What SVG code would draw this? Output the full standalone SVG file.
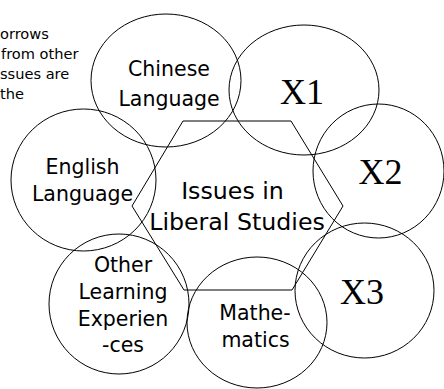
<svg xmlns="http://www.w3.org/2000/svg" width="444" height="389" viewBox="0 0 444 389">
<style>
.s{fill:none;stroke:#000;stroke-width:1}
.t{font-family:"DejaVu Sans",Verdana,sans-serif;font-size:20.5px;fill:#000;text-anchor:middle}
.c{font-family:"DejaVu Sans",Verdana,sans-serif;font-size:23.7px;fill:#000;text-anchor:middle}
.x{font-family:"Liberation Serif","Times New Roman",serif;font-size:36px;fill:#000;text-anchor:middle}
.n{font-family:"DejaVu Sans",Verdana,sans-serif;font-size:14.6px;fill:#000}
</style>
<rect width="444" height="389" fill="#fff"/>
<g id="note">
<text class="n" x="0" y="39">orrows</text>
<text class="n" x="1" y="59">from other</text>
<text class="n" x="0" y="79">ssues are</text>
<text class="n" x="0" y="99">the</text>
</g>
<g id="hub">
<polygon class="s" points="183,121 291,121 343,206 292,290 184,290 132,206"/>
<text class="c" x="232.5" y="199">Issues in</text>
<text class="c" x="237" y="230">Liberal Studies</text>
</g>
<g id="chinese">
<ellipse class="s" cx="166" cy="80.5" rx="75" ry="66.5"/>
<text class="t" x="169" y="76">Chinese</text>
<text class="t" x="169" y="106">Language</text>
</g>
<g id="x1">
<ellipse class="s" cx="304" cy="90" rx="75" ry="65"/>
<text class="x" x="302" y="104">X1</text>
</g>
<g id="x2">
<ellipse class="s" cx="378.5" cy="171" rx="65.5" ry="67"/>
<text class="x" x="380.5" y="184">X2</text>
</g>
<g id="english">
<ellipse class="s" cx="83.5" cy="180" rx="72.5" ry="71"/>
<text class="t" x="82.5" y="174">English</text>
<text class="t" x="82.5" y="201">Language</text>
</g>
<g id="x3">
<ellipse class="s" cx="364.5" cy="290.5" rx="69.5" ry="67.5"/>
<text class="x" x="362" y="304">X3</text>
</g>
<g id="other">
<ellipse class="s" cx="119" cy="304" rx="70" ry="70"/>
<text class="t" x="123" y="272">Other</text>
<text class="t" x="123" y="299">Learning</text>
<text class="t" x="123" y="326">Experien</text>
<text class="t" x="123" y="352">-ces</text>
</g>
<g id="math">
<ellipse class="s" cx="257" cy="322.5" rx="70" ry="65.5"/>
<text class="t" x="255" y="320">Mathe-</text>
<text class="t" x="255.5" y="347">matics</text>
</g>
<g id="connectors"/>
</svg>
